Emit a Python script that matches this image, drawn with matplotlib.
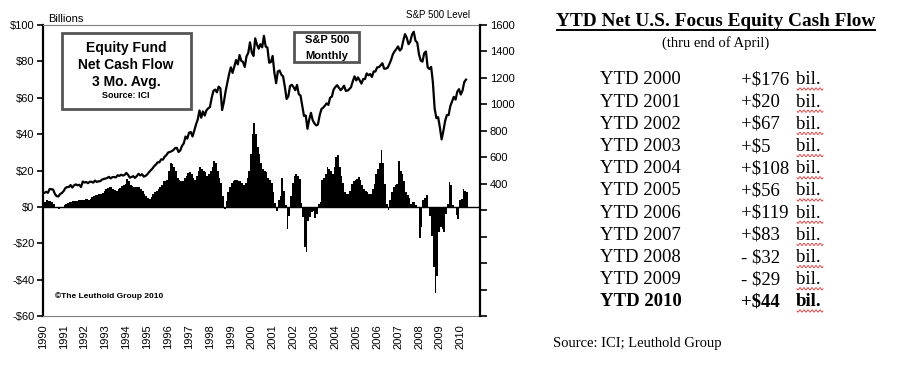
import numpy as np
import matplotlib.pyplot as plt

# Equity fund net cash flow, 3 mo. avg ($ bil), monthly Jan 1990 - Apr 2010
fund_flow = [
    2.0, 2.7, 3.7, 3.5, 3.0, 2.7, 1.5, 0.0, -0.4, -1.0, -0.8, 0.0,        # 1990
    1.0, 1.5, 2.2, 2.5, 2.7, 3.0, 3.2, 3.5, 3.7, 3.7, 3.7, 3.9,           # 1991
    4.6, 4.3, 4.0, 4.5, 5.5, 6.0, 6.4, 6.8, 7.0, 7.3, 7.5, 8.5,           # 1992
    10.0, 10.5, 11.0, 11.0, 10.0, 9.5, 9.0, 10.0, 10.6, 11.5, 12.0, 12.8, # 1993
    15.6, 14.0, 12.0, 11.5, 11.0, 11.0, 11.0, 11.0, 10.0, 9.0, 7.3, 6.0,  # 1994
    5.0, 4.5, 5.5, 7.0, 8.0, 9.0, 10.0, 11.0, 12.0, 14.0, 14.0, 15.0,     # 1995
    20.0, 24.0, 23.5, 22.0, 20.0, 16.0, 15.0, 14.0, 14.5, 16.0, 17.0, 18.5,  # 1996
    19.0, 18.0, 16.0, 15.0, 17.0, 20.0, 22.0, 21.0, 20.0, 19.0, 17.0, 18.0,  # 1997
    20.0, 22.0, 25.0, 24.0, 20.0, 16.0, 13.0, 6.0, -1.0, 3.0, 8.0, 11.0,     # 1998
    13.0, 14.0, 15.0, 15.0, 14.0, 14.0, 13.0, 12.0, 13.0, 16.0, 20.0, 29.0,  # 1999
    40.0, 46.0, 40.0, 33.0, 29.0, 24.0, 21.0, 20.0, 19.0, 16.0, 15.0, 13.0,  # 2000
    8.0, 2.0, -2.0, 4.0, 6.0, 16.0, 9.0, 1.0, -12.0, -5.0, 6.0, 13.0,        # 2001
    17.0, 18.0, 17.0, 15.6, 2.0, -5.5, -22.0, -24.7, -8.0, -5.5, -3.0, -2.0, # 2002
    -6.0, -3.7, 1.8, 2.7, 14.6, 16.0, 18.0, 22.0, 21.0, 20.0, 18.0, 22.0,    # 2003
    27.5, 28.4, 22.0, 17.0, 13.0, 8.0, 7.3, 7.3, 9.0, 12.8, 14.0, 15.0,      # 2004
    15.6, 16.5, 14.6, 12.0, 10.0, 9.0, 8.2, 7.3, 7.3, 10.0, 12.8, 18.0,      # 2005
    21.0, 24.0, 31.0, 24.0, 12.8, 1.8, -1.8, 3.7, 8.0, 11.0, 12.0, 12.8,     # 2006
    25.0, 20.0, 18.0, 14.0, 8.2, 6.4, 5.0, 1.8, 2.5, 2.7, 1.0, -0.5,         # 2007
    -17.0, -11.0, 3.7, 5.0, 6.4, 0.0, -5.0, -16.0, -33.0, -47.6, -38.0, -14.0,  # 2008
    -11.0, -12.0, -13.7, -3.7, 1.8, 13.7, 12.0, 1.0, 0.0, -4.6, -6.4, 3.7,   # 2009
    4.6, 10.0, 9.0, 8.0,                                                     # 2010
]

# S&P 500 month-end level, Jan 1990 - Apr 2010
sp500 = [
    329, 331, 339, 331, 361, 358, 356, 323, 306, 304, 322, 330,
    344, 367, 375, 375, 390, 371, 388, 395, 388, 392, 375, 417,
    409, 413, 404, 415, 415, 408, 424, 414, 418, 419, 431, 436,
    439, 443, 452, 440, 450, 451, 448, 464, 459, 468, 462, 466,
    482, 467, 446, 451, 457, 444, 458, 475, 463, 472, 454, 459,
    470, 487, 501, 515, 533, 545, 562, 562, 584, 582, 605, 616,
    636, 640, 646, 654, 669, 671, 640, 652, 687, 705, 757, 741,
    786, 791, 757, 801, 848, 885, 954, 899, 947, 915, 955, 970,
    980, 1049, 1102, 1112, 1091, 1134, 1121, 957, 1017, 1099, 1164, 1229,
    1280, 1238, 1286, 1335, 1302, 1373, 1329, 1320, 1283, 1363, 1389, 1469,
    1394, 1366, 1499, 1452, 1421, 1455, 1431, 1518, 1437, 1429, 1315, 1320,
    1366, 1240, 1160, 1249, 1256, 1224, 1211, 1134, 1041, 1060, 1139, 1148,
    1130, 1107, 1147, 1077, 1067, 990, 912, 916, 815, 886, 936, 880,
    856, 841, 848, 917, 964, 975, 990, 1008, 996, 1051, 1058, 1112,
    1131, 1145, 1126, 1107, 1121, 1141, 1102, 1104, 1115, 1130, 1174, 1212,
    1181, 1204, 1181, 1157, 1192, 1191, 1234, 1220, 1229, 1207, 1249, 1248,
    1280, 1281, 1295, 1311, 1270, 1270, 1277, 1304, 1336, 1378, 1401, 1418,
    1438, 1407, 1421, 1482, 1531, 1503, 1455, 1474, 1527, 1549, 1481, 1468,
    1379, 1331, 1323, 1386, 1400, 1280, 1267, 1283, 1165, 969, 896, 903,
    826, 735, 798, 873, 919, 919, 987, 1021, 1057, 1036, 1096, 1115,
    1074, 1104, 1169, 1187,
]

year_labels = [str(y) for y in range(1990, 2011)]
left_ticks = [100, 80, 60, 40, 20, 0, -20, -40, -60]
right_ticks = list(range(-600, 1601, 200))

ytd_years = ["YTD 2000", "YTD 2001", "YTD 2002", "YTD 2003", "YTD 2004", "YTD 2005",
             "YTD 2006", "YTD 2007", "YTD 2008", "YTD 2009", "YTD 2010"]
ytd_flows = ["+$176", "+$20", "+$67", "+$5", "+$108", "+$56",
             "+$119", "+$83", "- $32", "- $29", "+$44"]

W, H = 898, 365
plt.rcParams['font.family'] = ['Liberation Sans', 'DejaVu Sans']
fig = plt.figure(figsize=(W / 100, H / 100), dpi=100)

def px(x, y):
    return x / W, 1 - y / H

ax = fig.add_axes([42.7 / W, 1 - 316 / H, (480 - 42.7) / W, (316 - 25) / H])
t_flow = 1990 + np.arange(len(fund_flow)) / 12
ax.bar(t_flow, fund_flow, width=1 / 12, align='edge', color='black', linewidth=0)
ax.axhline(0, color='black', lw=1)
ax.set_xlim(1990, 2010.92)
ax.set_ylim(-60, 100)
ax.set_yticks(left_ticks)
ax.set_yticklabels([("-$%d" % -v) if v < 0 else "$%d" % v for v in left_ticks], fontsize=8)
ax.set_xticks(range(1990, 2011))
ax.set_xticklabels(year_labels, rotation=90, fontsize=8)
ax.tick_params(axis='x', length=0, pad=6)
ax.tick_params(axis='y', direction='out', length=4, width=1.2, pad=2)
ax.spines['left'].set_linewidth(1.6)
ax.spines['top'].set_color('#808080')
ax.spines['bottom'].set_color('#808080')
ax.spines['right'].set_visible(False)

ax2 = ax.twinx()
t_sp = 1990 + np.arange(len(sp500)) / 12
ax2.plot(t_sp, sp500, color='black', lw=1.6)
ax2.set_ylim(-600, 1600)
ax2.set_yticks(right_ticks)
ax2.set_yticklabels([str(v) if v >= 400 else "" for v in right_ticks], fontsize=8)
ax2.tick_params(axis='y', direction='out', length=5, width=1.2, pad=2)
ax2.spines['right'].set_linewidth(1.6)
for s in ['top', 'bottom', 'left']:
    ax2.spines[s].set_visible(False)

fig.text(*px(48, 19), "Billions", fontsize=8, va='center', ha='left')
fig.text(*px(470, 15), "S&P 500 Level", fontsize=7, va='center', ha='right')

# label boxes
box_kw = dict(facecolor='white', edgecolor='#555555', lw=2)
fig.patches.append(plt.Rectangle(px(61.7, 109), (191 - 61.7) / W, (109 - 32.7) / H,
                                 transform=fig.transFigure, **box_kw))
fig.text(*px(126, 48), "Equity Fund", fontsize=10, weight='bold', ha='center', va='center')
fig.text(*px(126, 65), "Net Cash Flow", fontsize=10, weight='bold', ha='center', va='center')
fig.text(*px(126, 82), "3 Mo. Avg.", fontsize=10, weight='bold', ha='center', va='center')
fig.text(*px(126, 96), "Source: ICI", fontsize=6.5, weight='bold', ha='center', va='center')

fig.patches.append(plt.Rectangle(px(294.3, 62.3), (359.3 - 294.3) / W, (62.3 - 32.3) / H,
                                 transform=fig.transFigure, **box_kw))
fig.text(*px(327, 40), "S&P 500", fontsize=8, weight='bold', ha='center', va='center')
fig.text(*px(327, 56), "Monthly", fontsize=8, weight='bold', ha='center', va='center')

fig.text(*px(55, 296), "\u00a9The Leuthold Group 2010", fontsize=6, weight='bold',
         ha='left', va='center')

# right-hand table
serif = ['Liberation Serif', 'DejaVu Serif']
fig.text(*px(716, 22), "YTD Net U.S. Focus Equity Cash Flow", family=serif,
         fontsize=13.9, weight='bold', ha='center', va='center')
fig.lines.append(plt.Line2D([557 / W, 875 / W], [1 - 30 / H, 1 - 30 / H],
                            transform=fig.transFigure, color='black', lw=1.4))
fig.text(*px(716, 43), "(thru end of April)", family=serif, fontsize=10.5,
         ha='center', va='center')
wave_x = np.linspace(797, 823, 40)
wave_y = 1.2 * np.sin((wave_x - 797) * np.pi / 2)
for i, (yr, val) in enumerate(zip(ytd_years, ytd_flows)):
    y = 80 + i * 22.2
    wt = 'bold' if i == len(ytd_years) - 1 else 'normal'
    fig.text(*px(600, y), yr, family=serif, fontsize=13.5, weight=wt, ha='left', va='center')
    fig.text(*px(740.7, y), val, family=serif, fontsize=13.5, weight=wt, ha='left', va='center')
    fig.text(*px(796, y), "bil.", family=serif, fontsize=13.5, weight=wt, ha='left', va='center')
    # spell-check squiggle under "bil."
    fig.lines.append(plt.Line2D(wave_x / W, 1 - (y + 9 + wave_y) / H,
                                transform=fig.transFigure, color='#e03030', lw=0.6))
fig.text(*px(552.7, 343), "Source: ICI; Leuthold Group", family=serif, fontsize=10.5,
         ha='left', va='center')

fig.savefig("out.png", dpi=100)
